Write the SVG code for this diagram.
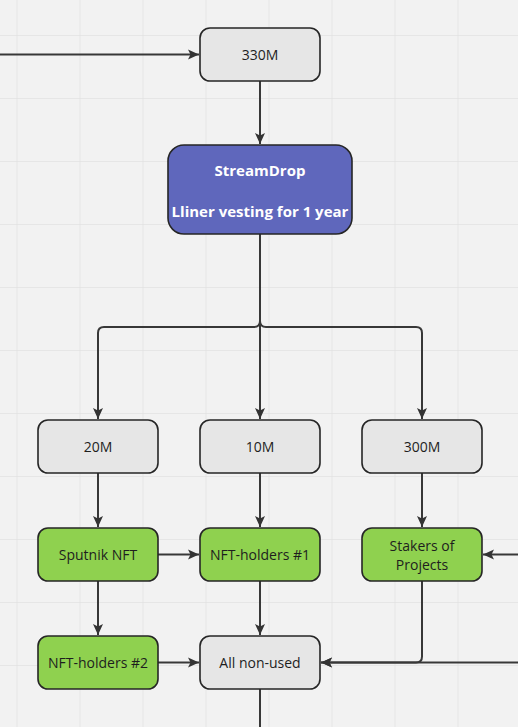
<svg xmlns="http://www.w3.org/2000/svg" width="518" height="727" viewBox="0 0 518 727">
  <defs>
    <pattern id="grid" x="16.5" y="35" width="63" height="63" patternUnits="userSpaceOnUse">
      <path d="M0,0 V63 M0,0 H63" fill="none" stroke="#e2e2e2" stroke-width="1.5"/>
    </pattern>
    <marker id="arr" viewBox="0 0 12 12" refX="11" refY="6" markerWidth="12" markerHeight="12" markerUnits="userSpaceOnUse" orient="auto">
      <path d="M0,1 L11,6 L0,11 L2.5,6 z" fill="#333"/>
    </marker>
    <style>
      .box { stroke: #262626; stroke-width: 1.6; }
      .gray { fill: #e6e6e6; }
      .green { fill: #8fd14f; }
      .purple { fill: #5f67bc; }
      .t { font-family: "Open Sans", "Noto Sans", sans-serif; font-size: 14px; fill: #1e1e1e; text-anchor: middle; dominant-baseline: central; }
      .tb { font-family: "Open Sans", "Noto Sans", sans-serif; font-size: 15px; font-weight: bold; fill: #ffffff; text-anchor: middle; dominant-baseline: central; }
      .c { fill: none; stroke: #383838; stroke-width: 2; }
    </style>
  </defs>
  <rect width="518" height="727" fill="#f2f2f2"/>
  <rect width="518" height="727" fill="url(#grid)"/>

  <g id="connectors">
    <path class="c" d="M0,54.5 H199" marker-end="url(#arr)"/>
    <path class="c" d="M260,81 V144" marker-end="url(#arr)"/>
    <path class="c" d="M260,234 V419" marker-end="url(#arr)"/>
    <path class="c" d="M260,234 V321 Q260,327 254,327 H104 Q98,327 98,333 V419" marker-end="url(#arr)"/>
    <path class="c" d="M260,234 V321 Q260,327 266,327 H416 Q422,327 422,333 V419" marker-end="url(#arr)"/>
    <path class="c" d="M98,473 V527" marker-end="url(#arr)"/>
    <path class="c" d="M260,473 V527" marker-end="url(#arr)"/>
    <path class="c" d="M422,473 V527" marker-end="url(#arr)"/>
    <path class="c" d="M158,554.5 H199" marker-end="url(#arr)"/>
    <path class="c" d="M518,554.5 H483" marker-end="url(#arr)"/>
    <path class="c" d="M98,581 V635" marker-end="url(#arr)"/>
    <path class="c" d="M260,581 V635" marker-end="url(#arr)"/>
    <path class="c" d="M158,662.5 H199" marker-end="url(#arr)"/>
    <path class="c" d="M422,581 V656.5 Q422,662.5 416,662.5 H321" marker-end="url(#arr)"/>
    <path class="c" d="M518,662.5 H321" marker-end="url(#arr)"/>
    <path class="c" d="M260,689 V727"/>
  </g>

  <g id="n330m">
    <rect class="box gray" x="200" y="28" width="120" height="53" rx="10"/>
    <text class="t" x="260" y="54.5">330M</text>
  </g>
  <g id="streamdrop">
    <rect class="box purple" x="168" y="145" width="184" height="89" rx="16"/>
    <text class="tb" x="260" y="169.5">StreamDrop</text>
    <text class="tb" x="260" y="210.5">Lliner vesting for 1 year</text>
  </g>
  <g id="n20m">
    <rect class="box gray" x="38" y="420" width="120" height="53" rx="10"/>
    <text class="t" x="98" y="446.5">20M</text>
  </g>
  <g id="n10m">
    <rect class="box gray" x="200" y="420" width="120" height="53" rx="10"/>
    <text class="t" x="260" y="446.5">10M</text>
  </g>
  <g id="n300m">
    <rect class="box gray" x="362" y="420" width="120" height="53" rx="10"/>
    <text class="t" x="422" y="446.5">300M</text>
  </g>
  <g id="sputnik">
    <rect class="box green" x="38" y="528" width="120" height="53" rx="10"/>
    <text class="t" x="98" y="554.5">Sputnik NFT</text>
  </g>
  <g id="holders1">
    <rect class="box green" x="200" y="528" width="120" height="53" rx="10"/>
    <text class="t" x="260" y="554.5">NFT-holders #1</text>
  </g>
  <g id="stakers">
    <rect class="box green" x="362" y="528" width="120" height="53" rx="10"/>
    <text class="t" x="422" y="545">Stakers of</text>
    <text class="t" x="422" y="564">Projects</text>
  </g>
  <g id="holders2">
    <rect class="box green" x="38" y="636" width="120" height="53" rx="10"/>
    <text class="t" x="98" y="662.5">NFT-holders #2</text>
  </g>
  <g id="nonused">
    <rect class="box gray" x="200" y="636" width="120" height="53" rx="10"/>
    <text class="t" x="260" y="662.5">All non-used</text>
  </g>
</svg>
